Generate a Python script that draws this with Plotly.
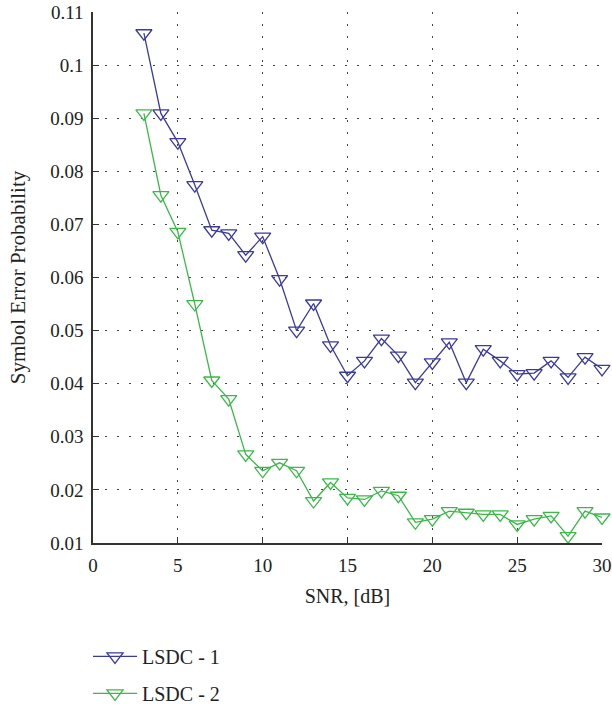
import plotly.graph_objects as go

snr = list(range(3, 31))
lsdc1 = [0.106, 0.0909, 0.0855, 0.0774, 0.0689, 0.0683, 0.0642, 0.0677, 0.0597, 0.0500,
         0.0551, 0.0472, 0.0415, 0.0443, 0.0485, 0.0453, 0.0402, 0.0440, 0.0478, 0.0402,
         0.0465, 0.0443, 0.0418, 0.0420, 0.0443, 0.0412, 0.0450, 0.0428]
lsdc2 = [0.0909, 0.0755, 0.0686, 0.0550, 0.0406, 0.0371, 0.0267, 0.0236, 0.0251, 0.0236,
         0.0179, 0.0214, 0.0185, 0.0182, 0.0198, 0.0189, 0.0139, 0.0145, 0.0160, 0.0157,
         0.0154, 0.0154, 0.0135, 0.0145, 0.0151, 0.0113, 0.0160, 0.0148]
series_names = ["LSDC - 1", "LSDC - 2"]
colors = ["#3a3a9c", "#3cb849"]
xticks = [0, 5, 10, 15, 20, 25, 30]
yticks = [0.01, 0.02, 0.03, 0.04, 0.05, 0.06, 0.07, 0.08, 0.09, 0.1, 0.11]
ytick_text = ["0.01", "0.02", "0.03", "0.04", "0.05", "0.06", "0.07", "0.08", "0.09", "0.1", "0.11"]

fig = go.Figure()
for i, (name, ys) in enumerate(zip(series_names, [lsdc1, lsdc2])):
    fig.add_trace(go.Scatter(
        x=snr, y=ys, name=name, mode="lines+markers",
        legendgroup=f"g{i}", cliponaxis=False,
        line=dict(color=colors[i], width=1.3),
        marker=dict(symbol="triangle-down-open", size=14, color=colors[i],
                    line=dict(width=1.3, color=colors[i])),
    ))

font_family = "Liberation Serif, Times New Roman, serif"
grid = dict(showgrid=True, gridcolor="#444", griddash="2px,10px", gridwidth=1)
fig.update_layout(
    width=612, height=710,
    margin=dict(l=93, r=10, t=12, b=167, autoexpand=False),
    plot_bgcolor="white", paper_bgcolor="white",
    font=dict(family=font_family, size=19, color="#222"),
    showlegend=True,
    legend=dict(x=-0.0098, y=0.103, xref="paper", yref="container",
                xanchor="left", yanchor="top", itemwidth=44,
                traceorder="grouped", tracegroupgap=8,
                font=dict(size=20, family=font_family),
                bgcolor="rgba(0,0,0,0)"),
    xaxis=dict(
        range=[0, 30], tickvals=xticks, ticks="inside", ticklen=6,
        tickcolor="#333", showline=True, linecolor="#333", linewidth=1.5,
        zeroline=False, mirror=False, ticklabelstandoff=4, automargin=False,
        title=dict(text="SNR, [dB]", standoff=14, font=dict(size=20)),
        tickfont=dict(size=19), **grid,
    ),
    yaxis=dict(
        range=[0.01, 0.11], tickvals=yticks, ticktext=ytick_text,
        ticks="inside", ticklen=6, tickcolor="#333",
        showline=True, linecolor="#333", linewidth=1.5,
        zeroline=False, ticklabelstandoff=4, automargin=False,
        title=dict(text="Symbol Error Probability", standoff=19, font=dict(size=21)),
        tickfont=dict(size=19), **grid,
    ),
)

fig.write_html("out.html", config={"displayModeBar": False},
               post_script="document.body.style.margin='0';document.body.style.overflow='hidden';")
